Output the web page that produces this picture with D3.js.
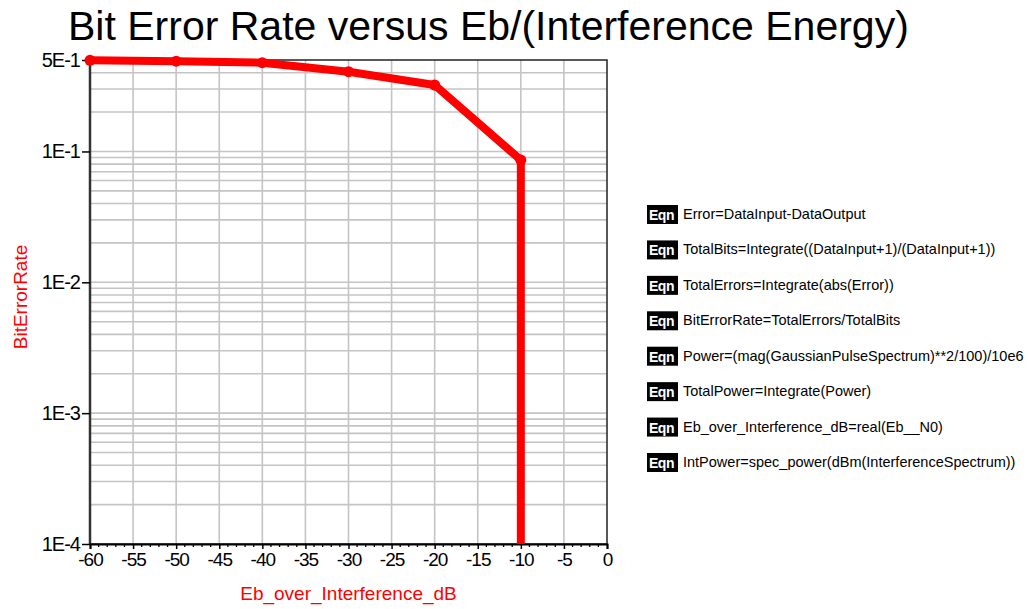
<!DOCTYPE html>
<html><head><meta charset="utf-8">
<script src="https://cdn.jsdelivr.net/npm/d3@7"></script>
<style>
html,body{margin:0;padding:0;background:#fff;}
svg{display:block;font-family:"Liberation Sans",Arial,sans-serif;}
</style></head>
<body><svg id="chart" width="1028" height="609"></svg>
<script>
// ---- data ----
const ebOverInterference = [-60, -50, -40, -30, -20, -10, -10];
const bitErrorRate = [0.497, 0.49, 0.477, 0.407, 0.322, 0.086, 1e-4];
const xTickValues = [-60, -55, -50, -45, -40, -35, -30, -25, -20, -15, -10, -5, 0];
const yTickValues = [0.5, 0.1, 0.01, 0.001, 0.0001];
const yTickLabels = ["5E-1", "1E-1", "1E-2", "1E-3", "1E-4"];
const equations = [
  "Error=DataInput-DataOutput",
  "TotalBits=Integrate((DataInput+1)/(DataInput+1))",
  "TotalErrors=Integrate(abs(Error))",
  "BitErrorRate=TotalErrors/TotalBits",
  "Power=(mag(GaussianPulseSpectrum)**2/100)/10e6",
  "TotalPower=Integrate(Power)",
  "Eb_over_Interference_dB=real(Eb__N0)",
  "IntPower=spec_power(dBm(InterferenceSpectrum))"
];
const titleText = "Bit Error Rate versus Eb/(Interference Energy)";
const xLabel = "Eb_over_Interference_dB";
const yLabel = "BitErrorRate";

// ---- layout ----
const svg = d3.select("#chart");
const L = 90, R = 607, T = 60, B = 544;
const x = d3.scaleLinear().domain([-60, 0]).range([L, R]);
const y = d3.scaleLog().domain([1e-4, 0.5]).range([B, T]);

svg.append("rect").attr("width", 1028).attr("height", 609).attr("fill", "#fff");

// title
svg.append("text").attr("x", 68).attr("y", 40)
  .attr("font-size", 41).attr("fill", "#000").text(titleText);

// grid
const grid = svg.append("g");
const minorY = [];
[1e-4, 1e-3, 1e-2, 1e-1].forEach(d => {
  for (let k = 2; k <= 9; k++) { const v = d * k; if (v < 0.5) minorY.push(v); }
});
grid.selectAll(".gy").data(minorY.concat([1e-3, 1e-2, 1e-1])).join("line")
  .attr("x1", L).attr("x2", R)
  .attr("y1", d => y(d)).attr("y2", d => y(d))
  .attr("stroke", "#c4c4c4").attr("stroke-width", 1.6);
grid.selectAll(".gx").data(d3.range(-55, 0, 5)).join("line")
  .attr("x1", d => x(d)).attr("x2", d => x(d))
  .attr("y1", T).attr("y2", B)
  .attr("stroke", "#c4c4c4").attr("stroke-width", 1.6);

// frame
svg.append("rect").attr("x", L).attr("y", T).attr("width", R - L).attr("height", B - T)
  .attr("fill", "none").attr("stroke", "#222").attr("stroke-width", 1.5);
svg.append("line").attr("x1", L).attr("x2", L).attr("y1", T).attr("y2", B)
  .attr("stroke", "#333").attr("stroke-width", 2.5);

// x axis
const xAxis = d3.axisBottom(x).tickValues(xTickValues).tickSize(5).tickPadding(4)
  .tickFormat(d => d === 0 ? "0" : String(d).replace("\u2212", "-"));
const gx = svg.append("g").attr("transform", `translate(0,${B})`).call(xAxis);
gx.select(".domain").attr("stroke", "#000").attr("stroke-width", 2);
gx.selectAll(".tick line").attr("stroke", "#000").attr("stroke-width", 1.5);
gx.selectAll(".tick text").attr("font-size", 19).attr("fill", "#000")
  .attr("font-family", "Liberation Sans, Arial, sans-serif").attr("letter-spacing", -1);
svg.append("g").selectAll("line").data(d3.range(-59, 0, 1).filter(v => v % 5 !== 0)).join("line")
  .attr("x1", d => x(d)).attr("x2", d => x(d)).attr("y1", B).attr("y2", B + 3)
  .attr("stroke", "#000").attr("stroke-width", 1.3);

// y axis
const yAxis = d3.axisLeft(y).tickValues(yTickValues).tickSize(8).tickPadding(2)
  .tickFormat((d, i) => yTickLabels[i]);
const gy = svg.append("g").attr("transform", `translate(${L},0)`).call(yAxis);
gy.select(".domain").remove();
gy.selectAll(".tick line").attr("stroke", "#000").attr("stroke-width", 1.5);
gy.selectAll(".tick text").attr("font-size", 20).attr("fill", "#000")
  .attr("font-family", "Liberation Sans, Arial, sans-serif").attr("letter-spacing", -1);

// axis labels
svg.append("text").attr("x", (L + R) / 2).attr("y", 600).attr("text-anchor", "middle")
  .attr("font-size", 19).attr("fill", "#f00").text(xLabel);
svg.append("text").attr("transform", `translate(27,${297}) rotate(-90)`).attr("text-anchor", "middle")
  .attr("font-size", 19).attr("fill", "#f00").text(yLabel);

// data line
const pts = ebOverInterference.map((v, i) => [v, bitErrorRate[i]]);
const line = d3.line().x(d => x(d[0])).y(d => y(d[1]));
svg.append("path").datum(pts).attr("d", line)
  .attr("fill", "none").attr("stroke", "#f00").attr("stroke-width", 8)
  .attr("stroke-linejoin", "round");
svg.append("g").selectAll("circle").data(pts.slice(0, 6)).join("circle")
  .attr("cx", d => x(d[0])).attr("cy", d => y(d[1])).attr("r", 5.5).attr("fill", "#f00");

// equations list
const eq = svg.append("g");
const rowY = d3.scaleLinear().domain([0, equations.length - 1]).range([214, 462]);
const rows = eq.selectAll("g").data(equations).join("g")
  .attr("transform", (d, i) => `translate(647,${rowY(i)})`);
rows.append("rect").attr("x", 0).attr("y", -9).attr("width", 31).attr("height", 19).attr("fill", "#000");
rows.append("text").attr("x", 2).attr("y", 6).attr("font-size", 14).attr("font-weight", "bold")
  .attr("fill", "#fff").attr("letter-spacing", -0.5).text("Eqn");
rows.append("text").attr("x", 36).attr("y", 5).attr("font-size", 14.5).attr("fill", "#000")
  .text(d => d);
</script></body></html>
